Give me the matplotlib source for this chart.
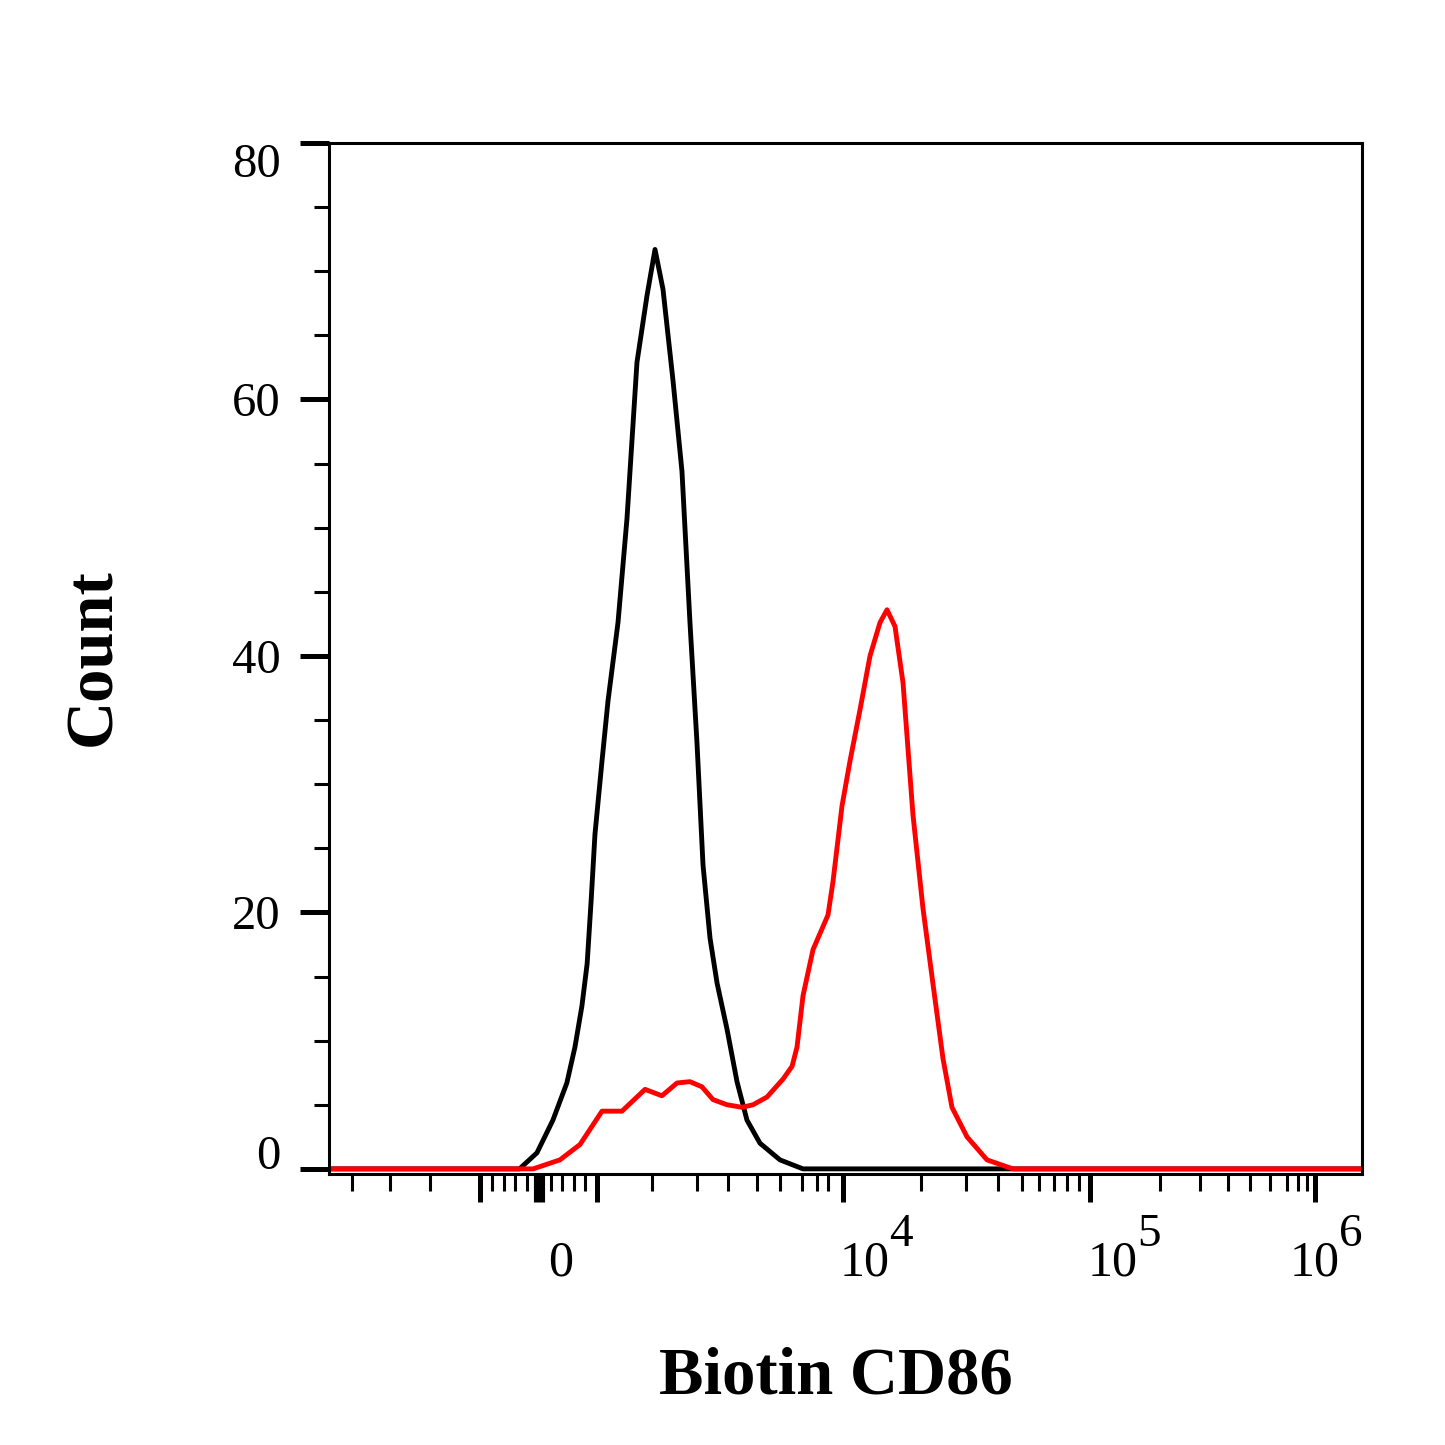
import numpy as np
import matplotlib
matplotlib.use("Agg")
import matplotlib.pyplot as plt
from matplotlib.transforms import blended_transform_factory, ScaledTranslation

plt.rcParams['font.family'] = ['Liberation Serif', 'DejaVu Serif']

# biexponential axis: tick values and where they sit along the axis (0..1033)
AXIS_VALUES = [-4600, -4000, -3000, -2000, -1000, 0, 1000, 2000, 3000, 4000, 5000,
               6000, 7000, 8000, 9000, 1e4, 2e4, 3e4, 4e4, 5e4, 6e4, 7e4, 8e4, 9e4,
               1e5, 2e5, 3e5, 4e5, 5e5, 6e5, 7e5, 8e5, 9e5, 1e6, 1.62e6]
AXIS_POS = [0, 23, 61, 101, 151, 210, 268, 323, 368, 399, 428,
            451, 473, 488, 499, 514, 592, 637, 669, 693, 710, 725, 738, 750,
            761, 831, 871, 899, 921, 941, 958, 969, 978, 986, 1033]

MAJOR_TICKS = [-1000, 0, 1000, 1e4, 1e5, 1e6]
MINOR_TICKS = ([-4000, -3000, -2000, -800, -600, -400, -200, 200, 400, 600, 800]
               + [k * 1000 for k in range(2, 10)]
               + [k * 1e4 for k in range(2, 10)]
               + [k * 1e5 for k in range(2, 10)])

# isotype control (black)
BLACK_X = [-4600, -330, -35, 240, 480, 620, 740, 830, 900, 965, 1065, 1149, 1303, 1459,
           1655, 1878, 2055, 2208, 2416, 2620, 2816, 3000, 3172, 3385, 3613, 3963, 4287,
           4629, 5120, 6000, 7060, 1.62e6]
BLACK_Y = [0, 0, 1.25, 3.8, 6.7, 9.5, 12.7, 16.0, 21.0, 26.1, 31.8, 36.5, 42.6, 50.7,
           62.9, 68.1, 71.7, 68.6, 61.5, 54.4, 42.6, 33.2, 23.7, 18.0, 14.5, 10.9, 6.8,
           3.8, 2.0, 0.7, 0, 0]

# Biotin CD86 (red)
RED_X = [-4600, -100, 360, 707, 1065, 1370, 1832, 2187, 2506, 2816, 3140, 3481, 3963,
         4455, 4849, 5410, 6127, 6530, 6760, 7063, 7722, 9000, 9321, 9930, 10641,
         11630, 12713, 13892, 14786, 15874, 17047, 18623, 20363, 22286, 24382,
         26440, 30270, 36240, 45980, 1.62e6]
RED_Y = [0, 0, 0.7, 1.9, 4.5, 4.5, 6.2, 5.7, 6.7, 6.8, 6.4, 5.4, 5.0,
         4.8, 5.0, 5.6, 7.0, 8.0, 9.5, 13.5, 17.1, 19.8, 22.4, 28.3, 31.8,
         35.8, 40.0, 42.6, 43.6, 42.3, 37.9, 27.6, 20.3, 14.4, 8.6,
         4.8, 2.5, 0.7, 0, 0]

Y_TICKS = [0, 20, 40, 60, 80]
X_LABELS = [(0, '0', ''), (1e4, '10', '4'), (1e5, '10', '5'), (1e6, '10', '6')]


def _u(x):
    x = np.asarray(x, dtype=float)
    a = np.abs(x)
    return np.where(a <= 1000, x / 1000, np.sign(x) * (1 + np.log(np.maximum(a, 1000) / 1000)))


def _u_inv(u):
    u = np.asarray(u, dtype=float)
    a = np.abs(u)
    return np.where(a <= 1, u * 1000, np.sign(u) * 1000 * np.exp(np.maximum(a, 1) - 1))


AXIS_U = _u(AXIS_VALUES)


def forward(x):
    return np.interp(_u(x), AXIS_U, AXIS_POS)


def inverse(p):
    return _u_inv(np.interp(p, AXIS_POS, AXIS_U))


fig = plt.figure(figsize=(14.45, 14.45), dpi=100)
ax = fig.add_axes([329 / 1445, 1 - 1174 / 1445, 1033 / 1445, 1031 / 1445])

ax.set_xscale('function', functions=(forward, inverse))
ax.plot(BLACK_X, BLACK_Y, color='black', lw=3.5, solid_joinstyle='round')
ax.plot(RED_X, RED_Y, color='#ff0000', lw=3.5, solid_joinstyle='round')

ax.set_xlim(-4600, 1.62e6)
ax.set_ylim(-0.4, 80)

for s in ax.spines.values():
    s.set_linewidth(2.2)

ax.set_xticks(MAJOR_TICKS)
ax.set_xticklabels([])
ax.set_xticks(MINOR_TICKS, minor=True)
ax.tick_params(axis='x', which='major', direction='out', length=20, width=3.6)
ax.tick_params(axis='x', which='minor', direction='out', length=12, width=2.2)
for t, v in zip(ax.xaxis.get_major_ticks(), MAJOR_TICKS):
    if v == 0:
        t.tick1line.set_markeredgewidth(8)

ax.set_yticks(Y_TICKS)
ax.set_yticklabels([str(v) for v in Y_TICKS], fontsize=35)
ax.set_yticks([v for v in range(0, 81, 5) if v % 20], minor=True)
ax.tick_params(axis='y', which='major', direction='out', length=21, width=3.6, pad=14)
ax.tick_params(axis='y', which='minor', direction='out', length=11, width=2.2)
ylabels = ax.get_yticklabels()
ylabels[0].set_va('baseline')
ylabels[-1].set_va('top')

# x tick labels, drawn as text so the exponent can sit like in the original
tr = blended_transform_factory(ax.transData, ax.transAxes)
offsets = {0: 9, 1e4: -3, 1e5: -2, 1e6: -25}
for val, base, exp in X_LABELS:
    dx = offsets[val]
    ax.text(val, 0, base, fontsize=36, ha='left', va='baseline',
            transform=tr + ScaledTranslation(dx / 100, -1.01, fig.dpi_scale_trans))
    if exp:
        ax.text(val, 0, exp, fontsize=34, ha='left', va='baseline',
                transform=tr + ScaledTranslation((dx + 49) / 100, -0.72, fig.dpi_scale_trans))

ax.set_xlabel('Biotin CD86', fontsize=48, fontweight='bold', va='center')
ax.xaxis.set_label_coords(0.491, -0.197)
ax.set_ylabel('Count', fontsize=48, fontweight='bold', va='center')
ax.yaxis.set_label_coords(-0.228, 0.501)

fig.savefig('out.png', dpi=100)
